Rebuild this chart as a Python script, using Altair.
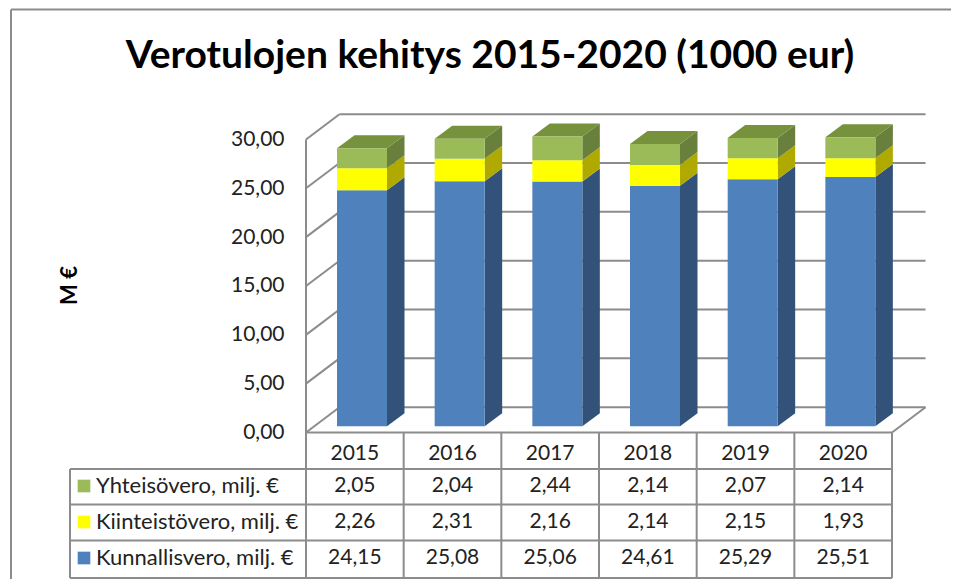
import altair as alt
import pandas as pd

TITLE = "Verotulojen kehitys 2015-2020 (1000 eur)"
years = ["2015", "2016", "2017", "2018", "2019", "2020"]
yhteisovero = [2.05, 2.04, 2.44, 2.14, 2.07, 2.14]
kiinteistovero = [2.26, 2.31, 2.16, 2.14, 2.15, 1.93]
kunnallisvero = [24.15, 25.08, 25.06, 24.61, 25.29, 25.51]
series_names = ["Kunnallisvero, milj. €", "Kiinteistövero, milj. €", "Yhteisövero, milj. €"]
front_colors = ["#4F81BD", "#FFFF00", "#9BBB59"]
side_colors = ["#32527A", "#B0AA00", "#69803C"]
top_color = "#76923C"
y_ticks = [0, 5, 10, 15, 20, 25, 30]

W, H = 943, 571
PX_CAT = 97.67      # pixels per category
PX_VAL = 9.767      # pixels per value unit
X0 = 306 - 8        # svg x of the front-left corner of the chart
Y0 = 432.5 - 8      # svg y of value 0 at the front


def xd(page_px):
    return (page_px - 8 - X0) / PX_CAT


def yd(page_py):
    return (Y0 - (page_py - 8)) / PX_VAL


xs = alt.Scale(domain=[-X0 / PX_CAT, (W - X0) / PX_CAT], range=[0, W], nice=False, zero=False)
ys = alt.Scale(domain=[(Y0 - H) / PX_VAL, Y0 / PX_VAL], range=[H, 0], nice=False, zero=False)

y_axis = alt.Axis(
    values=y_ticks,
    orient="left",
    offset=-(284 - 8),
    domain=False,
    ticks=False,
    grid=False,
    labelPadding=0,
    labelFont="Lato",
    labelFontSize=21,
    labelColor="#222222",
    labelExpr="replace(format(datum.value, '.2f'), '.', ',')",
    title="M €",
    titleFont="Lato",
    titleFontSize=22,
    titleFontWeight="bold",
    titleColor="#000000",
    titleX=-203,
    titleY=285 - 8,
)


def X(f):
    return alt.X(f, scale=xs, axis=None)


def Y(f):
    return alt.Y(f, scale=ys, axis=y_axis)


# wall depth / bar geometry, in scale units
WALL_DX, WALL_DY = 33.5 / PX_CAT, 25.3 / PX_VAL
BAR_OFF, BAR_W = 31 / PX_CAT, 50 / PX_CAT
BAR_DX, BAR_DY = 17.5 / PX_CAT, 13 / PX_VAL
BAR_BASE = 6.3 / PX_VAL

# ---- rules -------------------------------------------------------------
LINE = "#8C8C8C"
grid_rows = []
for v in y_ticks:
    grid_rows.append(dict(x=0, x2=WALL_DX, y=v, y2=v + WALL_DY))
    grid_rows.append(dict(x=WALL_DX, x2=6 + WALL_DX, y=v + WALL_DY, y2=v + WALL_DY))
grid_rows.append(dict(x=6, x2=6 + WALL_DX, y=0, y2=WALL_DY))
grid_rows.append(dict(x=0, x2=0, y=yd(578), y2=30))

table_tops = [432.5, 469, 504.5, 540.5, 578]
table_rows = []
for i, t in enumerate(table_tops):
    table_rows.append(dict(x=xd(70) if i > 0 else 0, x2=6, y=yd(t), y2=yd(t)))
for c in range(1, 7):
    table_rows.append(dict(x=c, x2=c, y=yd(432.5), y2=yd(578)))
table_rows.append(dict(x=xd(70), x2=xd(70), y=yd(469), y2=yd(578)))

frame_rows = [
    dict(x=xd(11), x2=xd(951), y=yd(9.5), y2=yd(9.5)),
    dict(x=xd(11), x2=xd(11), y=yd(9.5), y2=yd(579)),
]


def rules(rows, color, width):
    return alt.Chart(pd.DataFrame(rows)).mark_rule(color=color, strokeWidth=width).encode(
        x=X("x:Q"), x2="x2:Q", y=Y("y:Q"), y2="y2:Q",
    )


# ---- 3D bars -----------------------------------------------------------
fronts, sides, tops = [], [], []
for i, yr in enumerate(years):
    x1 = i + BAR_OFF
    x2 = x1 + BAR_W
    lo = 0.0
    vals = [kunnallisvero[i], kiinteistovero[i], yhteisovero[i]]
    for s, v in enumerate(vals):
        hi = lo + v
        fronts.append(dict(x=x1, x2=x2, y=lo + BAR_BASE, y2=hi + BAR_BASE, c=front_colors[s]))
        gid = f"{yr}-{s}"
        sides.append(dict(g=gid, x=x2, y=lo + BAR_BASE, y2=hi + BAR_BASE, c=side_colors[s]))
        sides.append(dict(g=gid, x=x2 + BAR_DX, y=lo + BAR_BASE + BAR_DY, y2=hi + BAR_BASE + BAR_DY, c=side_colors[s]))
        lo = hi
    t = lo + BAR_BASE
    tops.extend([
        dict(g=yr, x=x1, y=t, y2=t, c=top_color),
        dict(g=yr, x=x1 + BAR_DX, y=t, y2=t + BAR_DY, c=top_color),
        dict(g=yr, x=x2, y=t, y2=t + BAR_DY, c=top_color),
        dict(g=yr, x=x2 + BAR_DX, y=t + BAR_DY, y2=t + BAR_DY, c=top_color),
    ])


def faces(rows):
    return alt.Chart(pd.DataFrame(rows)).mark_area(
        interpolate="linear", orient="vertical", opacity=1
    ).encode(
        x=X("x:Q"), y=Y("y:Q"), y2="y2:Q",
        detail="g:N",
        color=alt.Color("c:N", scale=None),
    )


front_layer = alt.Chart(pd.DataFrame(fronts)).mark_rect().encode(
    x=X("x:Q"), x2="x2:Q", y=Y("y:Q"), y2="y2:Q",
    color=alt.Color("c:N", scale=None),
)

# ---- table text --------------------------------------------------------
row_centers = [558, 522, 486]   # Kunnallisvero, Kiinteistövero, Yhteisövero
text_rows = [dict(x=i + 0.5, y=yd(454), t=yr) for i, yr in enumerate(years)]
for series, cy in zip([kunnallisvero, kiinteistovero, yhteisovero], row_centers):
    for i, v in enumerate(series):
        text_rows.append(dict(x=i + 0.5, y=yd(cy), t=f"{v:.2f}".replace(".", ",")))
table_text = alt.Chart(pd.DataFrame(text_rows)).mark_text(
    font="Lato", fontSize=21, color="#222222", baseline="middle", align="center"
).encode(x=X("x:Q"), y=Y("y:Q"), text="t:N")

legend_df = pd.DataFrame(
    dict(
        x=[xd(84)] * 3,
        tx=[xd(96)] * 3,
        y=[yd(c) for c in row_centers],
        t=series_names,
        c=front_colors,
    )
)
legend_keys = alt.Chart(legend_df).mark_square(size=160, opacity=1).encode(
    x=X("x:Q"), y=Y("y:Q"), color=alt.Color("c:N", scale=None),
)
legend_text = alt.Chart(legend_df).mark_text(
    font="Lato", fontSize=22, color="#222222", baseline="middle", align="left"
).encode(x=X("tx:Q"), y=Y("y:Q"), text="t:N")

title_text = alt.Chart(pd.DataFrame(dict(x=[xd(490)], y=[yd(68)], t=[TITLE]))).mark_text(
    font="Lato", fontSize=39, fontWeight="bold", color="#000000",
    baseline="alphabetic", align="center",
).encode(x=X("x:Q"), y=Y("y:Q"), text="t:N")

chart = alt.layer(
    rules(frame_rows, LINE, 2),
    rules(grid_rows, LINE, 2),
    faces(sides),
    faces(tops),
    front_layer,
    rules(table_rows, LINE, 2),
    table_text,
    legend_keys,
    legend_text,
    title_text,
).properties(
    width=W,
    height=H,
    padding=0,
    autosize=alt.AutoSizeParams(type="none"),
).configure_view(stroke=None)

chart.save("out.html", embed_options={"renderer": "svg", "actions": False})
